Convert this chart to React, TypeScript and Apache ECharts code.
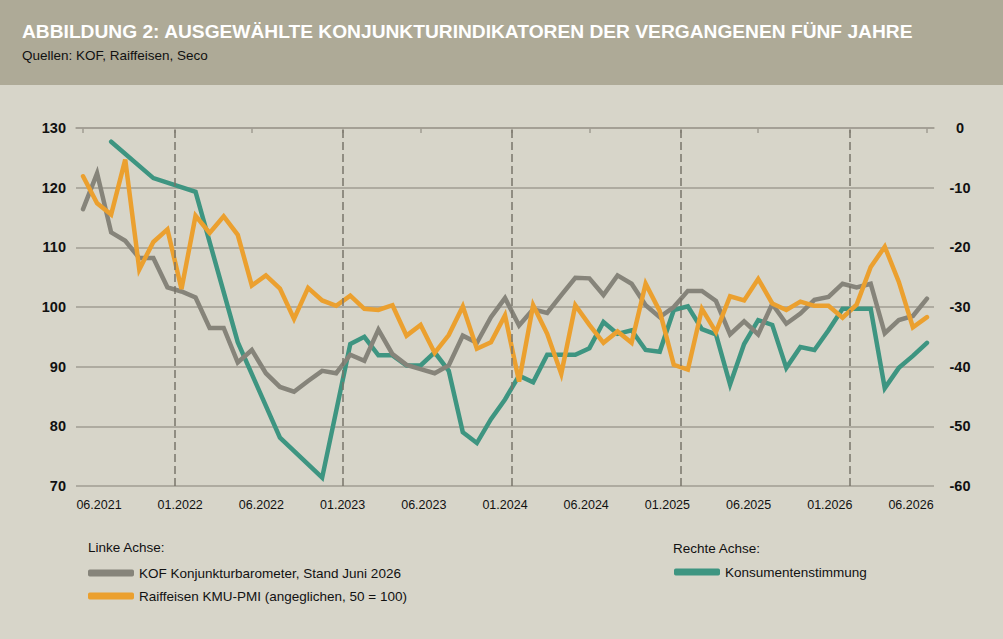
import React, { useEffect, useRef } from "react";
import * as echarts from "echarts";

// ---- data (month index 0 = 06.2021 ... 60 = 06.2026) ----
const startYear = 2021;
const startMonth = 6;

const tickLabels = [
  "06.2021", "01.2022", "06.2022", "01.2023", "06.2023", "01.2024",
  "06.2024", "01.2025", "06.2025", "01.2026", "06.2026",
];
const yearBreaks = ["01.2022", "01.2023", "01.2024", "01.2025", "01.2026"];

const leftTicks = [70, 80, 90, 100, 110, 120, 130];
const rightTicks = [-60, -50, -40, -30, -20, -10, 0];

const kofName = "KOF Konjunkturbarometer, Stand Juni 2026";
const pmiName = "Raiffeisen KMU-PMI (angeglichen, 50 = 100)";
const consName = "Konsumentenstimmung";

const kof = [
  116.4, 122.4, 112.5, 111.1, 108.2, 108.2, 103.3, 102.6, 101.6, 96.5,
  96.5, 90.7, 92.8, 88.9, 86.6, 85.8, 87.6, 89.3, 88.9, 92.0,
  91.0, 96.2, 92.1, 90.3, 89.6, 88.9, 90.2, 95.2, 94.0, 98.3,
  101.5, 96.9, 99.6, 99.0, 102.0, 104.9, 104.8, 102.0, 105.3, 103.9,
  100.3, 98.3, 100.0, 102.7, 102.7, 101.0, 95.4, 97.6, 95.4, 100.5,
  97.2, 98.9, 101.2, 101.7, 103.9, 103.3, 103.9, 95.6, 97.8, 98.5,
  101.4,
];

const pmi = [
  121.9, 117.4, 115.5, 124.7, 106.3, 110.9, 113.0, 103.0, 115.3, 112.4,
  115.2, 112.1, 103.6, 105.3, 103.1, 98.0, 103.2, 101.1, 100.2, 101.9,
  99.7, 99.5, 100.3, 95.2, 97.0, 92.3, 95.3, 100.1, 93.0, 94.1,
  98.6, 87.5, 100.3, 95.5, 88.8, 100.3, 97.0, 94.0, 95.9, 94.0,
  103.9, 99.3, 90.3, 89.5, 99.7, 95.8, 101.8, 101.1, 104.7, 100.6,
  99.5, 100.9, 100.2, 100.2, 98.2, 100.4, 106.7, 110.1, 104.2, 96.6,
  98.3,
];

const consumer: (number | null)[] = [
  null, null, -2.3, null, null, -8.4, null, null, -10.7, null,
  null, -35.9, null, null, -51.9, null, null, -58.6, null, -36.2,
  -35.0, -38.1, -38.1, -39.8, -39.8, -37.6, -40.7, -51.0, -52.8, -48.8,
  -45.5, -41.5, -42.6, -38.0, -38.0, -38.0, -36.9, -32.5, -34.5, -33.9,
  -37.2, -37.5, -30.5, -29.9, -33.7, -34.6, -43.0, -36.2, -32.2, -33.0,
  -40.2, -36.7, -37.2, -33.9, -30.3, -30.3, -30.3, -43.6, -40.2, -38.2,
  -36.0,
];

// label "MM.YYYY" -> position on the month-index axis
// (January ticks sit on the boundary between December and January)
function labelPos(label: string): number {
  const [mm, yyyy] = label.split(".").map(Number);
  const idx = (yyyy - startYear) * 12 + (mm - startMonth);
  return mm === 1 ? idx - 0.5 : idx;
}

const COLORS = {
  bg: "#d7d5c9",
  header: "#aeaa97",
  grid: "#a19d92",
  dash: "rgba(120,116,106,0.75)",
  kof: "#86847a",
  pmi: "#eba02f",
  cons: "#3e9581",
  text: "#111111",
};

const FONT = "'Liberation Sans', Arial, Helvetica, sans-serif";

export default function App() {
  const ref = useRef<HTMLDivElement>(null);

  useEffect(() => {
    if (!ref.current) return;
    const chart = echarts.init(ref.current, null, { renderer: "svg" });
    const tickPos = tickLabels.map(labelPos);
    const labelIdx = tickLabels.map((_, k) => k);

    const toPairs = (arr: (number | null)[]) =>
      arr.map((v, i) => [i, v]).filter((d) => d[1] !== null);

    const lineCommon = {
      type: "line" as const,
      showSymbol: false,
      symbol: "none",
      smooth: false,
      connectNulls: true,
      silent: true,
    };

    const legendText = { fontSize: 13.5, color: COLORS.text, fontFamily: FONT, lineHeight: 14 };

    chart.setOption({
      animation: false,
      backgroundColor: COLORS.bg,
      textStyle: { fontFamily: FONT },
      grid: { left: 76, right: 69, top: 128, bottom: 153, containLabel: false },
      xAxis: [
        {
          type: "value",
          min: -0.5,
          max: 60.5,
          axisLine: { show: true, lineStyle: { color: COLORS.grid, width: 1.5 } },
          axisTick: {
            show: true,
            customValues: tickPos,
            length: 5,
            lineStyle: { color: COLORS.grid, width: 1.5 },
          },
          axisLabel: { show: false },
          splitLine: { show: false },
        },
        {
          // evenly spaced date labels beneath the axis
          type: "value",
          position: "bottom",
          min: -0.2833,
          max: 10.2833,
          axisLine: { show: false },
          axisTick: { show: false },
          splitLine: { show: false },
          axisLabel: {
            customValues: labelIdx,
            formatter: (v: number) => tickLabels[Math.round(v)] ?? "",
            color: COLORS.text,
            fontSize: 12.5,
            fontFamily: FONT,
            margin: 12,
          },
        },
      ],
      yAxis: [
        {
          type: "value",
          position: "left",
          min: leftTicks[0],
          max: leftTicks[leftTicks.length - 1],
          interval: 10,
          axisLine: { show: false },
          axisTick: { show: false },
          splitLine: { show: true, lineStyle: { color: COLORS.grid, width: 1.5 } },
          axisLabel: {
            color: COLORS.text,
            fontSize: 14.5,
            fontWeight: "bold",
            fontFamily: FONT,
            margin: 10,
          },
        },
        {
          type: "value",
          position: "right",
          min: rightTicks[0],
          max: rightTicks[rightTicks.length - 1],
          interval: 10,
          axisLine: { show: false },
          axisTick: { show: false },
          splitLine: { show: false },
          axisLabel: {
            color: COLORS.text,
            fontSize: 14.5,
            fontWeight: "bold",
            fontFamily: FONT,
            align: "center",
            margin: 26,
          },
        },
      ],
      legend: [
        {
          data: [kofName, pmiName],
          orient: "vertical",
          left: 83,
          top: 561,
          icon: "roundRect",
          itemWidth: 46,
          itemHeight: 7,
          itemGap: 9,
          selectedMode: false,
          textStyle: legendText,
        },
        {
          data: [consName],
          orient: "vertical",
          left: 669,
          top: 560,
          icon: "roundRect",
          itemWidth: 46,
          itemHeight: 7,
          selectedMode: false,
          textStyle: legendText,
        },
      ],
      graphic: [
        {
          type: "rect",
          left: 0,
          top: 0,
          shape: { x: 0, y: 0, width: 1003, height: 85 },
          style: { fill: COLORS.header },
          silent: true,
        },
        {
          type: "text",
          x: 22,
          y: 31,
          style: {
            text: "ABBILDUNG 2: AUSGEWÄHLTE KONJUNKTURINDIKATOREN DER VERGANGENEN FÜNF JAHRE",
            fill: "#ffffff",
            font: `bold 19.2px ${FONT}`,
            verticalAlign: "middle",
          },
        },
        {
          type: "text",
          x: 22,
          y: 55,
          style: {
            text: "Quellen: KOF, Raiffeisen, Seco",
            fill: COLORS.text,
            font: `13.5px ${FONT}`,
            verticalAlign: "middle",
          },
        },
        {
          type: "text",
          x: 88,
          y: 547,
          style: {
            text: "Linke Achse:",
            fill: COLORS.text,
            font: `13.5px ${FONT}`,
            verticalAlign: "middle",
          },
        },
        {
          type: "text",
          x: 673,
          y: 548,
          style: {
            text: "Rechte Achse:",
            fill: COLORS.text,
            font: `13.5px ${FONT}`,
            verticalAlign: "middle",
          },
        },
      ],
      series: [
        {
          ...lineCommon,
          name: consName,
          yAxisIndex: 1,
          xAxisIndex: 0,
          data: toPairs(consumer),
          color: COLORS.cons,
          lineStyle: { color: COLORS.cons, width: 4.5, join: "miter", cap: "round" },
          z: 2,
        },
        {
          ...lineCommon,
          name: kofName,
          yAxisIndex: 0,
          xAxisIndex: 0,
          data: toPairs(kof),
          color: COLORS.kof,
          lineStyle: { color: COLORS.kof, width: 4.5, join: "miter", cap: "round" },
          z: 3,
        },
        {
          ...lineCommon,
          name: pmiName,
          yAxisIndex: 0,
          xAxisIndex: 0,
          data: toPairs(pmi),
          color: COLORS.pmi,
          lineStyle: { color: COLORS.pmi, width: 4.5, join: "miter", cap: "round" },
          z: 4,
          markLine: {
            silent: true,
            symbol: "none",
            label: { show: false },
            lineStyle: { color: COLORS.dash, width: 2, type: [8, 4] },
            data: yearBreaks.map((l) => ({ xAxis: labelPos(l) })),
          },
        },
      ],
    });

    return () => chart.dispose();
  }, []);

  return (
    <div
      ref={ref}
      style={{ position: "fixed", left: 0, top: 0, width: 1003, height: 639 }}
    />
  );
}
